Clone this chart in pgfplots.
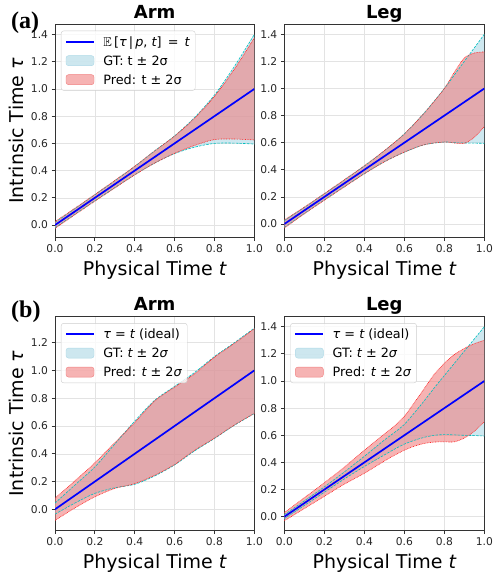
\documentclass[border=0pt]{standalone}
\usepackage{amssymb}
\usepackage{fontspec}
\setmainfont{DejaVu Sans}
\newfontfamily\labfont{Liberation Serif}
\usepackage{pgfplots}
\usepackage{pgfplotstable}
\pgfplotsset{compat=1.18}
\usepgfplotslibrary{fillbetween}

\definecolor{gtfill}{HTML}{ADD8E6}
\definecolor{gtedge}{HTML}{00BFBF}
\definecolor{prfill}{HTML}{F08080}
\definecolor{predge}{HTML}{FF0000}

\newcommand\tickfont{\fontsize{10.7}{12.8}\selectfont}
\newcommand\lgfont{\fontsize{12.8}{15.4}\selectfont}
\newcommand\labelfont{\fontsize{19}{22}\selectfont}
\newcommand\titlefont{\bfseries\fontsize{18}{21}\selectfont}
\newcommand\lstrut{\rule[-4.4pt]{0pt}{15.4pt}}

% t, GT lower/upper, Pred lower/upper
\pgfplotstableread{
t    gl     gu     pl     pu
0.0  -0.020 0.020  -0.025 0.025
0.1  0.080  0.120  0.076  0.124
0.2  0.178  0.222  0.175  0.225
0.3  0.275  0.325  0.272  0.328
0.4  0.370  0.430  0.368  0.432
0.5  0.455  0.545  0.455  0.545
0.6  0.525  0.655  0.527  0.653
0.7  0.572  0.790  0.585  0.785
0.8  0.600  0.955  0.628  0.945
0.9  0.602  1.165  0.632  1.145
1.0  0.595  1.400  0.625  1.375
}\armA
\pgfplotstableread{
t    gl     gu     pl     pu
0.0  -0.025 0.025  -0.030 0.030
0.1  0.078  0.122  0.075  0.125
0.2  0.178  0.222  0.175  0.225
0.3  0.276  0.324  0.273  0.327
0.4  0.372  0.428  0.370  0.430
0.5  0.460  0.540  0.458  0.542
0.6  0.530  0.665  0.530  0.665
0.7  0.585  0.820  0.585  0.820
0.8  0.605  1.000  0.605  1.000
0.85 0.600  1.100  0.598  1.120
0.9  0.598  1.200  0.595  1.225
0.95 0.597  1.300  0.640  1.262
1.0  0.595  1.400  0.720  1.270
}\legA
\pgfplotstableread{
t    gl     gu     pl     pu
0.0  -0.035 0.045  -0.080 0.080
0.1  0.045  0.175  0.010  0.205
0.2  0.115  0.305  0.090  0.335
0.3  0.155  0.470  0.150  0.480
0.4  0.180  0.635  0.185  0.625
0.5  0.240  0.785  0.245  0.780
0.6  0.320  0.885  0.322  0.880
0.7  0.420  0.985  0.425  0.975
0.8  0.510  1.100  0.512  1.095
0.9  0.605  1.200  0.607  1.195
1.0  0.690  1.305  0.690  1.300
}\armB
\pgfplotstableread{
t    gl     gu     pl     pu
0.0  -0.015 0.015  -0.030 0.030
0.1  0.083  0.117  0.060  0.140
0.2  0.180  0.220  0.150  0.250
0.3  0.278  0.330  0.240  0.365
0.4  0.370  0.445  0.320  0.490
0.5  0.455  0.565  0.410  0.610
0.55 0.497  0.620  0.452  0.668
0.6  0.535  0.680  0.490  0.740
0.65 0.563  0.765  0.520  0.840
0.7  0.585  0.855  0.540  0.945
0.75 0.600  0.950  0.550  1.050
0.8  0.605  1.040  0.552  1.130
0.85 0.603  1.130  0.552  1.195
0.9  0.600  1.220  0.580  1.240
0.95 0.598  1.310  0.630  1.275
1.0  0.595  1.400  0.700  1.300
}\legB

\pgfplotsset{
  gtband/.style={fill=gtfill, fill opacity=0.6, draw=none},
  prband/.style={fill=prfill, fill opacity=0.6, draw=none},
  gtline/.style={gtedge, line width=0.6pt, dash pattern=on 2.5pt off 1.2pt, smooth, forget plot},
  prline/.style={predge!85, line width=0.6pt, dash pattern=on 0.8pt off 0.8pt, smooth, forget plot},
  panel/.style={
    scale only axis, anchor=north west,
    xmin=0, xmax=1,
    xtick={0,0.2,0.4,0.6,0.8,1},
    grid=major, major grid style={gray!22, line width=0.5pt},
    axis line style={black!80, line width=0.8pt},
    tick style={black!80, line width=0.8pt},
    tick align=outside, major tick length=3.5pt,
    xtick pos=bottom, ytick pos=left,
    ticklabel style={font=\tickfont, text=black!85},
    xticklabel style={/pgf/number format/fixed, /pgf/number format/fixed zerofill,
      /pgf/number format/precision=1, /pgf/number format/assume math mode=true},
    yticklabel style={/pgf/number format/fixed, /pgf/number format/fixed zerofill,
      /pgf/number format/precision=1, /pgf/number format/assume math mode=true},
    xlabel={Physical Time {\itshape t}},
    xlabel style={at={(axis description cs:0.5,-0.178)}, anchor=base, font=\labelfont},
    ylabel style={at={(axis description cs:-0.158,0.5)}, anchor=base, font=\labelfont},
    every axis title shift=0pt,
    title style={at={(axis description cs:0.5,1)}, anchor=base, yshift=6pt, font=\titlefont},
    legend cell align=left,
    legend style={at={(0.03,0.97)}, anchor=north west, draw=black!20, rounded corners=2.5pt,
      fill=white, fill opacity=0.8, text opacity=1, font=\lgfont,
      inner xsep=4pt, inner ysep=3pt, row sep=3.5pt, nodes={inner sep=1.5pt},
      /tikz/every odd column/.append style={column sep=7pt}},
  },
}

\newcommand\bands[2]{%
  \addplot[draw=none, smooth, forget plot, name path=#2gu] table[x=t,y=gu] {#1};
  \addplot[draw=none, smooth, forget plot, name path=#2gl] table[x=t,y=gl] {#1};
  \addplot[draw=none, smooth, forget plot, name path=#2pu] table[x=t,y=pu] {#1};
  \addplot[draw=none, smooth, forget plot, name path=#2pl] table[x=t,y=pl] {#1};
  \addplot[gtband, forget plot] fill between[of=#2gu and #2gl];
  \addplot[prband, forget plot] fill between[of=#2pu and #2pl];
  \addplot[gtline] table[x=t,y=gu] {#1};
  \addplot[gtline] table[x=t,y=gl] {#1};
  \addplot[prline] table[x=t,y=pu] {#1};
  \addplot[prline] table[x=t,y=pl] {#1};
  \addplot[blue, line width=1.7pt, forget plot] coordinates {(0,0) (1,1)};
}

\newcommand\legendA{%
  \addlegendimage{legend image code/.code={\draw[blue, line width=1.7pt] (0pt,0pt) -- (28pt,0pt);}}
  \addlegendentry{\lgfont\lstrut$\mathbb{E}$\,[{\itshape τ}\,|\,{\itshape p}, {\itshape t}]\, = \,{\itshape t}}
  \addlegendimage{legend image code/.code={\fill[gtfill, fill opacity=0.6] (0pt,-5pt) rectangle (28pt,5pt);}}
  \addlegendentry{\lgfont\lstrut GT: t ± 2σ}
  \addlegendimage{legend image code/.code={\fill[prfill, fill opacity=0.6] (0pt,-5pt) rectangle (28pt,5pt);}}
  \addlegendentry{\lgfont\lstrut Pred: t ± 2σ}
}
\newcommand\legendB{%
  \addlegendimage{legend image code/.code={\draw[blue, line width=1.7pt] (0pt,0pt) -- (28pt,0pt);}}
  \addlegendentry{\lgfont\lstrut{\itshape τ} = {\itshape t} (ideal)}
  \addlegendimage{legend image code/.code={\fill[gtfill, fill opacity=0.6] (0pt,-5pt) rectangle (28pt,5pt);}}
  \addlegendentry{\lgfont\lstrut GT: {\itshape t} ± 2{\itshape σ}}
  \addlegendimage{legend image code/.code={\fill[prfill, fill opacity=0.6] (0pt,-5pt) rectangle (28pt,5pt);}}
  \addlegendentry{\lgfont\lstrut Pred: {\itshape t} ± 2{\itshape σ}}
}

\begin{document}
\begin{tikzpicture}

% (a) Arm
\begin{axis}[panel, at={(55pt,-24.3pt)}, width=199.3pt, height=213.4pt,
  ymin=-0.093, ymax=1.475, ytick={0,0.2,0.4,0.6,0.8,1,1.2,1.4},
  title={Arm}, ylabel={Intrinsic Time {\itshape τ}}]
\bands{\armA}{aa}
\legendA
\end{axis}

% (a) Leg
\begin{axis}[panel, at={(284.3pt,-24.3pt)}, width=200pt, height=213.4pt,
  ymin=-0.101, ymax=1.474, ytick={0,0.2,0.4,0.6,0.8,1,1.2,1.4},
  title={Leg}]
\bands{\legA}{al}
\end{axis}

% (b) Arm
\begin{axis}[panel, at={(55pt,-316.7pt)}, width=199.3pt, height=214pt,
  ymin=-0.154, ymax=1.387, ytick={0,0.2,0.4,0.6,0.8,1,1.2},
  title={Arm}, ylabel={Intrinsic Time {\itshape τ}}]
\bands{\armB}{ba}
\legendB
\end{axis}

% (b) Leg
\begin{axis}[panel, at={(284.3pt,-316.7pt)}, width=200pt, height=214pt,
  ymin=-0.103, ymax=1.474, ytick={0,0.2,0.4,0.6,0.8,1,1.2,1.4},
  title={Leg}]
\bands{\legB}{bl}
\legendB
\end{axis}

\node[anchor=base west, inner sep=0pt, font=\labfont\bfseries\fontsize{24}{28}\selectfont] at (11pt,-28pt) {(a)};
\node[anchor=base west, inner sep=0pt, font=\labfont\bfseries\fontsize{24}{28}\selectfont] at (11pt,-317pt) {(b)};
\pgfresetboundingbox
\useasboundingbox (0pt,0pt) rectangle (493pt,-573pt);
\end{tikzpicture}
\end{document}
